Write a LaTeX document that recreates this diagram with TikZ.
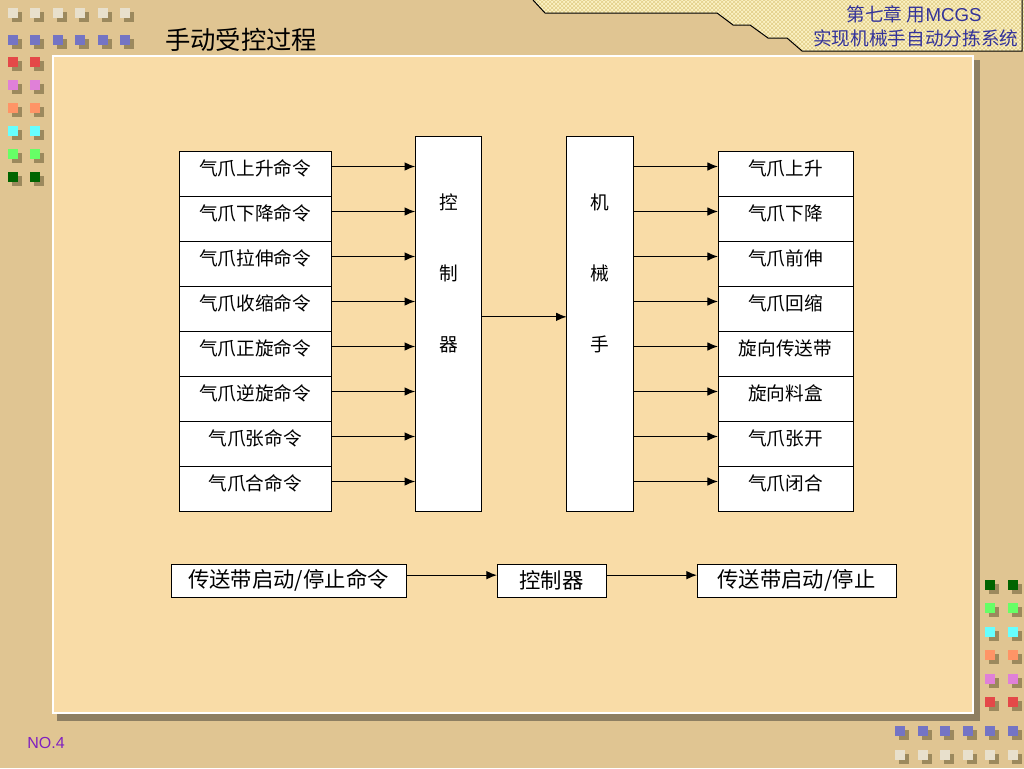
\documentclass[tikz,border=0pt]{standalone}
\usepackage{fontspec}
\setmainfont{Liberation Serif}
\newfontfamily\cjk{Noto Sans CJK SC}
\newfontfamily\arial{Liberation Sans}
\usetikzlibrary{positioning,arrows.meta,patterns}

\definecolor{bgtan}{HTML}{E0C592}
\definecolor{panelc}{HTML}{F9DCA7}
\definecolor{shadowc}{HTML}{8E7F62}
\definecolor{bannerc}{HTML}{FCF2C4}
\definecolor{hatchc}{HTML}{E2CE88}
\definecolor{headc}{HTML}{33339A}
\definecolor{pagec}{HTML}{8020C0}
\definecolor{sqshadow}{HTML}{8C7A50}
\definecolor{sqcream}{HTML}{E8E0CC}
\definecolor{sqpurple}{HTML}{7474C4}
\definecolor{sqred}{HTML}{E44848}
\definecolor{sqpink}{HTML}{E080D8}
\definecolor{sqorange}{HTML}{FF9466}
\definecolor{sqcyan}{HTML}{66FFFF}
\definecolor{sqgreen}{HTML}{66FF66}
\definecolor{sqdkgreen}{HTML}{006400}

\tikzset{every picture/.style={line width=0.75pt}}

% small square with its shadow
\newcommand{\decosq}[3]{%
  \fill[sqshadow,opacity=0.8] (#1+4,#2+4) rectangle ++(10,10);
  \fill[#3] (#1,#2) rectangle ++(10,10);}

\begin{document}
\begin{tikzpicture}[x=0.75pt,y=0.75pt,yscale=-1,
  cmdbox/.style={draw,fill=white,minimum width=114pt,minimum height=33.75pt,inner sep=0pt,outer sep=0pt,
    text height=12pt,text depth=9pt,font=\cjk\fontsize{14}{16}\selectfont},
  actbox/.style={cmdbox,minimum width=101.25pt},
  tallbox/.style={draw,fill=white,minimum width=50pt,minimum height=281.25pt,inner sep=0pt,outer sep=0pt},
  vtext/.style={align=center,inner sep=0pt,font=\cjk\fontsize{14}{53.25}\selectfont},
  beltbox/.style={draw,fill=white,minimum height=24.75pt,inner sep=0pt,outer sep=0pt,font=\cjk\fontsize{16}{18}\selectfont},
  arr/.style={-{Latex[length=8pt,width=6.5pt]},line width=0.9pt}]
	\useasboundingbox (0,0) rectangle (1024,768);

	%Shape: Background
	\fill[bgtan] (0,0) rectangle (1024,768);
	%Shape: Banner
	\fill[bannerc] (533,0) -- (545,13) -- (717,13) -- (733,25) -- (750,25) -- (768,38) -- (787,38) -- (802,51) -- (1024,51) -- (1024,0) -- cycle;
	\fill[pattern=crosshatch,pattern color=hatchc] (533,0) -- (545,13) -- (717,13) -- (733,25) -- (750,25) -- (768,38) -- (787,38) -- (802,51) -- (1024,51) -- (1024,0) -- cycle;
	\draw (533,0) -- (545,13) -- (717,13) -- (733,25) -- (750,25) -- (768,38) -- (787,38) -- (802,51) -- (1022,51) -- (1022,0);

	%Shape: Panel with shadow
	\fill[shadowc] (57,60) rectangle (980,721);
	\draw[white,line width=1.5pt,fill=panelc] (53,56) rectangle (973,713);

	%Shape: Squares top left
	\foreach \k in {0,...,5} {
	  \decosq{8+22.4*\k}{8}{sqcream}
	  \decosq{8+22.4*\k}{35}{sqpurple}
	}
	\foreach \c [count=\k from 0] in {sqred,sqpink,sqorange,sqcyan,sqgreen,sqdkgreen} {
	  \decosq{8}{57+22.9*\k}{\c}
	  \decosq{30}{57+22.9*\k}{\c}
	}
	%Shape: Squares bottom right
	\foreach \c [count=\k from 0] in {sqdkgreen,sqgreen,sqcyan,sqorange,sqpink,sqred} {
	  \decosq{985}{580+23.4*\k}{\c}
	  \decosq{1008}{580+23.4*\k}{\c}
	}
	\foreach \k in {0,...,5} {
	  \decosq{895+22.6*\k}{726}{sqpurple}
	  \decosq{895+22.6*\k}{750}{sqcream}
	}

	% Text Node
	\node[anchor=east,text=headc,inner sep=0pt] (chap) at (982,14) {\cjk\fontsize{14}{16}\selectfont 第七章 用\arial MCGS};
	% Text Node
	\node[anchor=east,text=headc,inner sep=0pt] (subj) at (1019,38) {\cjk\fontsize{14}{16}\selectfont 实现机械手自动分拣系统};
	% Text Node
	\node[inner sep=0pt] (title) at (241,40) {\cjk\fontsize{19}{22}\selectfont 手动受控过程};
	% Text Node
	\node[text=pagec,inner sep=0pt] (page) at (46,743) {\arial\fontsize{12}{14}\selectfont NO.4};

	%Left boxes
	\node[cmdbox] (cmd1) at (255,173.5) {气爪上升命令};
	\node[cmdbox,below=0pt of cmd1] (cmd2) {气爪下降命令};
	\node[cmdbox,below=0pt of cmd2] (cmd3) {气爪拉伸命令};
	\node[cmdbox,below=0pt of cmd3] (cmd4) {气爪收缩命令};
	\node[cmdbox,below=0pt of cmd4] (cmd5) {气爪正旋命令};
	\node[cmdbox,below=0pt of cmd5] (cmd6) {气爪逆旋命令};
	\node[cmdbox,below=0pt of cmd6] (cmd7) {气爪张命令};
	\node[cmdbox,below=0pt of cmd7] (cmd8) {气爪合命令};

	%Controller and arm
	\node[tallbox] (ctrl) at (448.5,323.5) {};
	\node[vtext] (ctrltxt) at ([yshift=-37.5pt]ctrl.center) {控\\制\\器};
	\node[tallbox] (arm) at (600,323.5) {};
	\node[vtext] (armtxt) at ([yshift=-37.5pt]arm.center) {机\\械\\手};

	%Right boxes
	\node[actbox] (act1) at (785.5,173.5) {气爪上升};
	\node[actbox,below=0pt of act1] (act2) {气爪下降};
	\node[actbox,below=0pt of act2] (act3) {气爪前伸};
	\node[actbox,below=0pt of act3] (act4) {气爪回缩};
	\node[actbox,below=0pt of act4] (act5) {旋向传送带};
	\node[actbox,below=0pt of act5] (act6) {旋向料盒};
	\node[actbox,below=0pt of act6] (act7) {气爪张开};
	\node[actbox,below=0pt of act7] (act8) {气爪闭合};

	%Arrows
	\foreach \i in {1,...,8} {
	  \draw[arr] ([yshift=-5.25pt]cmd\i.east) -- ([yshift=-5.25pt]cmd\i.east -| ctrl.west);
	  \draw[arr] ([yshift=-5.25pt]act\i.west -| arm.east) -- ([yshift=-5.25pt]act\i.west);
	}
	\draw[arr] ([yshift=-5pt]ctrl.east) -- ([yshift=-5pt]arm.west);

	%Conveyor row
	\node[beltbox,minimum width=176.25pt] (beltcmd) at (288.5,580.5) {传送带启动/停止命令};
	\node[beltbox,minimum width=81.75pt,right=68.25pt of beltcmd] (beltctrl) {控制器};
	\node[beltbox,minimum width=149.25pt,right=68.25pt of beltctrl] (belt) {传送带启动/停止};
	\draw[arr] ([yshift=-4pt]beltcmd.east) -- ([yshift=-4pt]beltctrl.west);
	\draw[arr] ([yshift=-4pt]beltctrl.east) -- ([yshift=-4pt]belt.west);

\end{tikzpicture}
\end{document}
